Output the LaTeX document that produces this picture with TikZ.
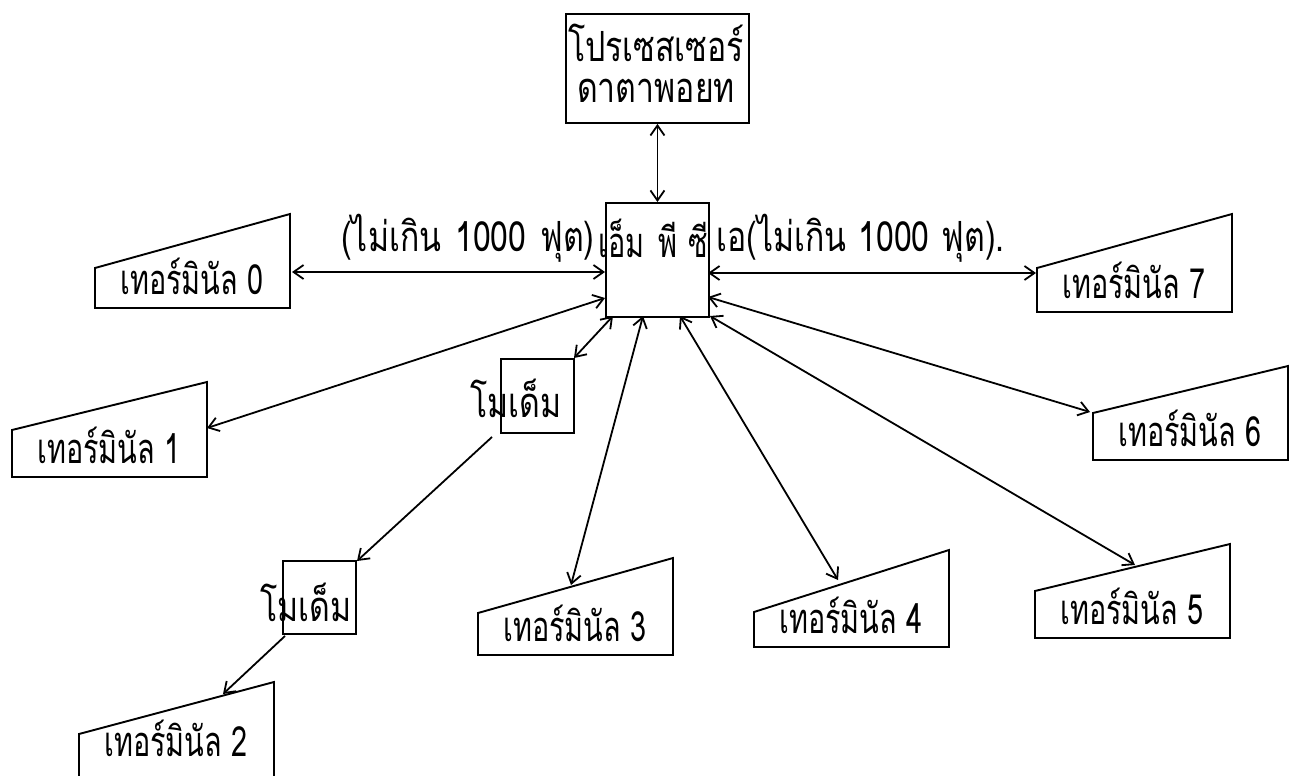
\documentclass[tikz,border=0pt]{standalone}
\usepackage{graphicx}
\usepackage{fontspec}
\newfontfamily\thaifont[Script=Thai]{Loma}
\usetikzlibrary{arrows.meta}
\newcommand\ty[1]{\scalebox{1}[1.3]{#1}}
\newcommand\tz[1]{\scalebox{0.9}[1.3]{#1}}
\newcommand\termbox[6]{%
  \draw[box] (#2,#5) -- (#2,#3) -- ({#2+195},#4) -- ({#2+195},#5) -- cycle;
  \node[txt] (#1) at ({#2+97},{#5-32}) {\tz{#6}};}
\begin{document}
\begin{tikzpicture}[x=0.5pt,y=-0.5pt,
  box/.style={draw,line width=0.95pt},
  txt/.style={font=\thaifont\fontsize{16}{19}\selectfont, inner sep=0pt},
  link/.style={line width=0.9pt,{Straight Barb[length=5pt,width=7pt]}-{Straight Barb[length=5pt,width=7pt]}},
  oneway/.style={line width=0.9pt,-{Straight Barb[length=5pt,width=7pt]}}]
\useasboundingbox (0,0) rectangle (1296,776);
% processor
\node[box,minimum width=91.5pt,minimum height=54.5pt,anchor=north west,inner sep=0pt] (proc) at (565,13) {};
\node[txt] (proc1) at (656,43) {\ty{โปรเซสเซอร์}};
\node[txt] (proc2) at (656,91) {\ty{ดาตาพอยท}};
% MPCA
\node[box,minimum width=51.5pt,minimum height=57pt,anchor=north west,inner sep=0pt] (mpca) at (605,202) {};
\node[txt,anchor=east] (lenL) at (595,238) {\ty{(ไม่เกิน\hspace{7pt}1000\hspace{7pt}ฟุต)}};
\node[txt,anchor=west] (mpcatxt) at (598,238) {\tz{เอ็ม\hspace{8pt}พี\hspace{6pt}ซี}};
\node[txt,anchor=west] (lenR) at (716,238) {\ty{เอ(ไม่เกิน\hspace{6pt}1000\hspace{6pt}ฟุต).}};
% modems
\node[box,minimum width=36.5pt,minimum height=37pt,anchor=north west,inner sep=0pt] (mod1) at (500,358) {};
\node[txt] (mod1txt) at (516,398) {\ty{โมเด็ม}};
\node[box,minimum width=36.5pt,minimum height=36.5pt,anchor=north west,inner sep=0pt] (mod2) at (282,560) {};
\node[txt] (mod2txt) at (306,602) {\ty{โมเด็ม}};
% terminals
\termbox{t0}{95}{268}{214}{308}{เทอร์มินัล 0}
\termbox{t1}{12}{430}{382}{477}{เทอร์มินัล 1}
\draw[box] (79,800) -- (79,734) -- (274,682) -- (274,800);
\node[txt] (t2) at (176,738) {\tz{เทอร์มินัล 2}};
\termbox{t3}{478}{613}{558}{655}{เทอร์มินัล 3}
\termbox{t4}{754}{612}{550}{647}{เทอร์มินัล 4}
\termbox{t5}{1035}{591}{544}{638}{เทอร์มินัล 5}
\termbox{t6}{1093}{413}{366}{460}{เทอร์มินัล 6}
\termbox{t7}{1037}{268}{214}{312}{เทอร์มินัล 7}
% endpoints
\coordinate (m0) at (605,272); \coordinate (e0) at (292,272);
\coordinate (m7) at (708,273); \coordinate (e7) at (1036,273);
\coordinate (m1) at (605,298); \coordinate (e1) at (207,428);
\coordinate (m6) at (708,297); \coordinate (e6) at (1090,412);
\coordinate (mm) at (613,316); \coordinate (em) at (574,358);
\coordinate (m3) at (643,316); \coordinate (e3) at (571,585);
\coordinate (m4) at (680,316); \coordinate (e4) at (838,580);
\coordinate (m5) at (710,316); \coordinate (e5) at (1135,565);
\coordinate (s12) at (492,437); \coordinate (e12) at (357,561);
\coordinate (s2) at (285,636); \coordinate (e2) at (223,694);
% connectors
\draw[link] (proc.south) -- (mpca.north);
\draw[link] (m0) -- (e0);
\draw[link] (m7) -- (e7);
\draw[link] (m1) -- (e1);
\draw[link] (m6) -- (e6);
\draw[link] (mm) -- (em);
\draw[link] (m3) -- (e3);
\draw[link] (m4) -- (e4);
\draw[link] (m5) -- (e5);
\draw[oneway] (s12) -- (e12);
\draw[oneway] (s2) -- (e2);
\end{tikzpicture}
\end{document}
